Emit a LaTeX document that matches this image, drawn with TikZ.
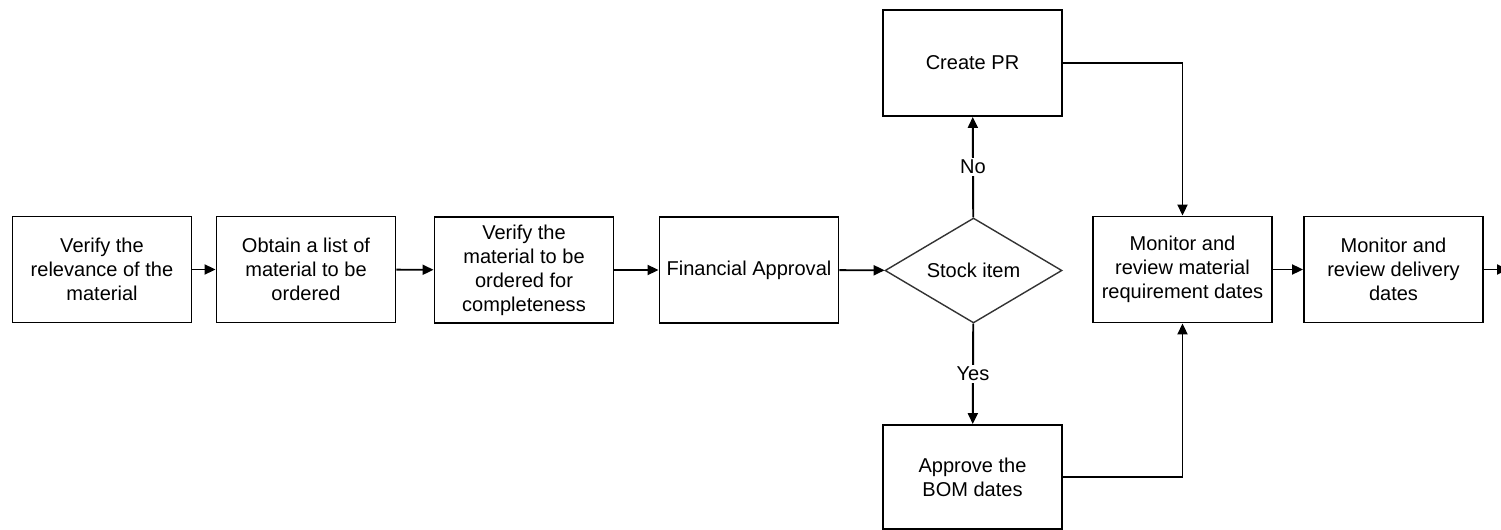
\documentclass[tikz,border=0pt]{standalone}
\usepackage{fontspec}
\setmainfont{Liberation Sans}
\usetikzlibrary{shapes.geometric,arrows.meta}

\begin{document}
\begin{tikzpicture}[x=0.02cm,y=-0.02cm,line width=1.1pt]
	\tikzstyle{box}=[draw,rectangle,inner sep=0pt,minimum width=3.58cm,minimum height=2.12cm,align=center,font=\fontsize{11.4}{13.7}\selectfont];
	\tikzstyle{decide}=[draw=black!80,line width=0.8pt,diamond,aspect=1.69,inner sep=0pt,minimum width=3.54cm,minimum height=2.1cm,font=\fontsize{11.4}{13.7}\selectfont];
	\tikzstyle{flow}=[-{Triangle[length=0.22cm,width=0.2cm]}];
	\tikzstyle{answer}=[fill=white,inner sep=1pt,font=\fontsize{11.4}{13.7}\selectfont];

	\useasboundingbox (0,0) rectangle (1501,530);

	\node[box] (relevance) at (102,269.5)  {Verify the\\relevance of the\\material};
	\node[box] (list)      at (306,269.5)  {Obtain a list of\\material to be\\ordered};
	\node[box] (complete)  at (524,270)    {Verify the\\material to be\\ordered for\\completeness};
	\node[box] (finance)   at (749,270)    {Financial Approval};
	\node[decide] (stock)  at (973.5,270.5) {Stock item};
	\node[box] (createpr)  at (972.5,63)   {Create PR};
	\node[box,minimum height=2.08cm] (bom) at (972.5,477) {Approve the\\BOM dates};
	\node[box] (matdates)  at (1182.5,269.5) {Monitor and\\review material\\requirement dates};
	\node[box] (deldates)  at (1393.5,269.5) {Monitor and\\review delivery\\dates};
	\coordinate (next) at (1508,269.5);

	\draw[flow] (relevance) -- (list);
	\draw[flow] (list) -- (complete);
	\draw[flow] (complete) -- (finance);
	\draw[flow] (finance) -- (stock);
	\draw[flow] (stock) -- node[answer] {No} (createpr);
	\draw[flow] (stock) -- node[answer] {Yes} (bom);
	\draw[flow] (createpr.east) -| (matdates.north);
	\draw[flow] (bom.east) -| (matdates.south);
	\draw[flow] (matdates) -- (deldates);
	\draw[flow] (deldates) -- (next);
\end{tikzpicture}
\end{document}
